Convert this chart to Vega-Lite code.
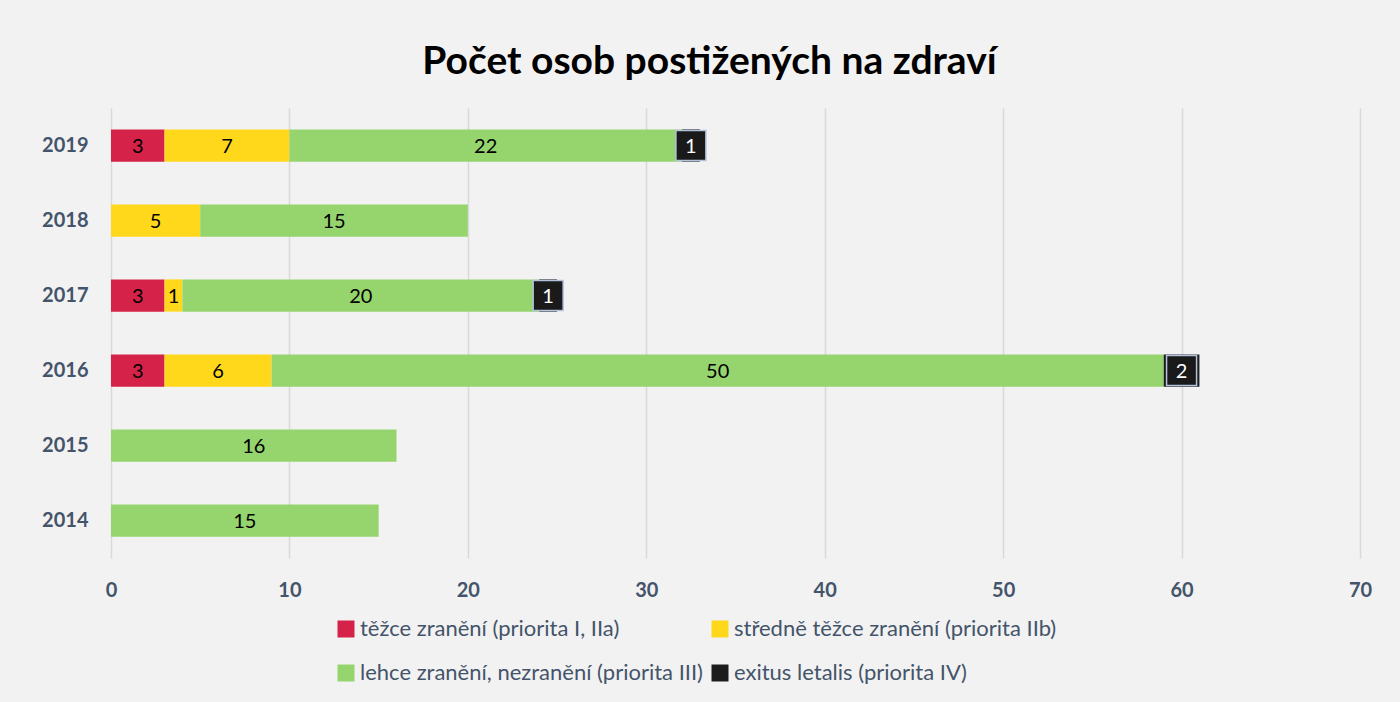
{
  "$schema": "https://vega.github.io/schema/vega-lite/v6.json",
  "autosize": {"type": "none"},
  "width": 1249,
  "height": 450,
  "padding": {"left": 111, "top": 108, "right": 40, "bottom": 144},
  "background": "#f2f2f2",
  "title": {
    "text": "Počet osob postižených na zdraví",
    "font": "Lato",
    "fontSize": 39,
    "fontWeight": "bold",
    "color": "#000000",
    "anchor": "middle",
    "dx": -26,
    "offset": 26
  },
  "config": {
    "view": {"stroke": null},
    "font": "Lato"
  },
  "data": {
    "values": [
      {"year": "2019", "cat": "těžce zranění (priorita I, IIa)", "order": 1, "value": 3},
      {"year": "2019", "cat": "středně těžce zranění (priorita IIb)", "order": 2, "value": 7},
      {"year": "2019", "cat": "lehce zranění, nezranění (priorita III)", "order": 3, "value": 22},
      {"year": "2019", "cat": "exitus letalis (priorita IV)", "order": 4, "value": 1},
      {"year": "2018", "cat": "středně těžce zranění (priorita IIb)", "order": 2, "value": 5},
      {"year": "2018", "cat": "lehce zranění, nezranění (priorita III)", "order": 3, "value": 15},
      {"year": "2017", "cat": "těžce zranění (priorita I, IIa)", "order": 1, "value": 3},
      {"year": "2017", "cat": "středně těžce zranění (priorita IIb)", "order": 2, "value": 1},
      {"year": "2017", "cat": "lehce zranění, nezranění (priorita III)", "order": 3, "value": 20},
      {"year": "2017", "cat": "exitus letalis (priorita IV)", "order": 4, "value": 1},
      {"year": "2016", "cat": "těžce zranění (priorita I, IIa)", "order": 1, "value": 3},
      {"year": "2016", "cat": "středně těžce zranění (priorita IIb)", "order": 2, "value": 6},
      {"year": "2016", "cat": "lehce zranění, nezranění (priorita III)", "order": 3, "value": 50},
      {"year": "2016", "cat": "exitus letalis (priorita IV)", "order": 4, "value": 2},
      {"year": "2015", "cat": "lehce zranění, nezranění (priorita III)", "order": 3, "value": 16},
      {"year": "2014", "cat": "lehce zranění, nezranění (priorita III)", "order": 3, "value": 15}
    ]
  },
  "transform": [
    {"stack": "value", "groupby": ["year"], "sort": [{"field": "order", "order": "ascending"}], "as": ["v0", "v1"]},
    {"calculate": "(datum.v0 + datum.v1) / 2", "as": "mid"}
  ],
  "encoding": {
    "y": {
      "field": "year",
      "type": "nominal",
      "sort": ["2019", "2018", "2017", "2016", "2015", "2014"],
      "scale": {"paddingInner": 0.57, "paddingOuter": 0.285},
      "axis": {
        "title": null,
        "domain": false,
        "ticks": false,
        "labelFont": "Lato",
        "labelFontSize": 20,
        "labelFontWeight": "bold",
        "labelColor": "#44546a",
        "labelPadding": 23
      }
    }
  },
  "layer": [
    {
      "mark": {"type": "bar"},
      "encoding": {
        "x": {
          "field": "v0",
          "type": "quantitative",
          "scale": {"domain": [0, 70], "nice": false},
          "axis": {
            "title": null,
            "values": [0, 10, 20, 30, 40, 50, 60, 70],
            "domain": false,
            "ticks": false,
            "grid": true,
            "gridColor": "#d9d9d9",
            "gridWidth": 1.5,
            "labelFlush": false,
            "labelFont": "Lato",
            "labelFontSize": 20,
            "labelFontWeight": "bold",
            "labelColor": "#44546a",
            "labelPadding": 22
          }
        },
        "x2": {"field": "v1"},
        "color": {
          "field": "cat",
          "type": "nominal",
          "scale": {
            "domain": [
              "těžce zranění (priorita I, IIa)",
              "středně těžce zranění (priorita IIb)",
              "lehce zranění, nezranění (priorita III)",
              "exitus letalis (priorita IV)"
            ],
            "range": ["#d42248", "#ffd81c", "#96d46e", "#1c1c1c"]
          },
          "legend": {
            "title": null,
            "orient": "none",
            "legendX": 224,
            "legendY": 510,
            "columns": 2,
            "direction": "horizontal",
            "gridAlign": "each",
            "columnPadding": 6,
            "rowPadding": 22,
            "symbolType": "square",
            "symbolSize": 289,
            "symbolStrokeWidth": 0,
            "symbolOffset": 0,
            "labelOffset": 3,
            "labelFont": "Lato",
            "labelFontSize": 22,
            "labelColor": "#44546a",
            "labelLimit": 600
          }
        }
      }
    },
    {
      "transform": [{"filter": "datum.order === 4"}],
      "mark": {"type": "point", "shape": "square", "filled": true, "size": 900, "color": "#1a1a1a", "stroke": "#b4c3dc", "strokeWidth": 1.5, "opacity": 1},
      "encoding": {
        "x": {"field": "mid", "type": "quantitative"}
      }
    },
    {
      "mark": {"type": "text", "font": "Lato", "fontSize": 20, "baseline": "middle", "align": "center", "dy": 1},
      "encoding": {
        "x": {"field": "mid", "type": "quantitative"},
        "text": {"field": "value", "type": "quantitative"},
        "color": {
          "condition": {"test": "datum.order === 4", "value": "#ffffff"},
          "value": "#000000"
        }
      }
    }
  ]
}
